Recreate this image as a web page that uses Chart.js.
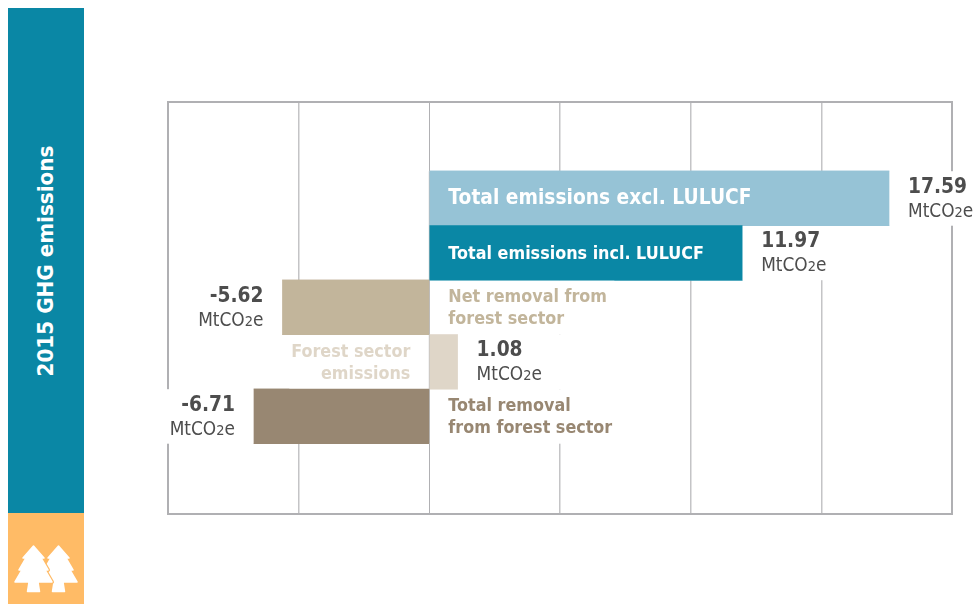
<!DOCTYPE html>
<html>
<head>
<meta charset="utf-8">
<script src="https://cdn.jsdelivr.net/npm/chart.js@4"></script>
<style>
  html, body { margin: 0; padding: 0; background: #fff; }
  body { width: 979px; height: 604px; position: relative; overflow: hidden; font-family: "DejaVu Sans", sans-serif; }
  #chart { position: absolute; left: 0; top: 0; }
  #sideBar { position: absolute; left: 8px; top: 8px; width: 76px; height: 505px; background: #0a87a5; }
  #sideTitle { position: absolute; left: 45px; top: 261px; transform: translate(-50%, -50%) rotate(-90deg) scale(1, 1.1); white-space: nowrap; color: #fff; font-weight: bold; font-size: 20px; }
  #sideIcon { position: absolute; left: 8px; top: 513px; width: 76px; height: 91px; background: #ffbb66; }
</style>
</head>
<body>
<canvas id="chart" width="979" height="604"></canvas>
<div id="sideBar"></div>
<div id="sideTitle">2015 GHG emissions</div>
<svg id="sideIcon" viewBox="0 0 76 91">
  <defs>
    <path id="tree" d="M25.5 33 L36 45 H33 L40 57 H37 L44 69 H30 L31.5 78.5 H19.5 L21 69 H7 L14 57 H11 L18 45 H15Z" stroke-linejoin="round"/>
  </defs>
  <use href="#tree" x="25" fill="#fff" stroke="#fff" stroke-width="1.5"/>
  <use href="#tree" fill="#fff" stroke="#ffbb66" stroke-width="4" paint-order="stroke"/>
  <use href="#tree" fill="#fff" stroke="#fff" stroke-width="1.5"/>
</svg>
<script>
const categories = ["Total emissions excl. LULUCF", "Total emissions incl. LULUCF", "Net removal from forest sector", "Forest sector emissions", "Total removal from forest sector"];
const values = [17.59, 11.97, -5.62, 1.08, -6.71];
const valueLabels = ["17.59", "11.97", "-5.62", "1.08", "-6.71"];
const barColors = ["#96c3d6", "#0a87a5", "#c2b59b", "#dfd6c8", "#988772"];
const xTicks = [-10, -5, 0, 5, 10, 15, 20];

// white boxes behind the labels, px left and right of the zero line
const rowMasks = [
  { left: 0, right: 549 },
  { left: 0, right: 405 },
  { left: 240, right: 185 },
  { left: 140, right: 140 },
  { left: 264, right: 195 }
];

const nameLabels = [
  { lines: ["Total emissions excl. LULUCF"], size: 18.67, color: "#fff", align: "left", offset: 19 },
  { lines: ["Total emissions incl. LULUCF"], size: 16, color: "#fff", align: "left", offset: 19 },
  { lines: ["Net removal from", "forest sector"], size: 16, color: "#c2b59b", align: "left", offset: 19 },
  { lines: ["Forest sector", "emissions"], size: 16, color: "#dfd6c8", align: "right", offset: -19 },
  { lines: ["Total removal", "from forest sector"], size: 16, color: "#988772", align: "left", offset: 19 }
];

// the reference text is a little stretched vertically
function tallText(ctx, text, x, y) {
  ctx.save();
  ctx.translate(x, y);
  ctx.scale(1, 1.1);
  ctx.fillText(text, 0, 0);
  ctx.restore();
}

function drawUnit(ctx, x, y, rightAlign) {
  const big = '17px "DejaVu Sans"', small = '13px "DejaVu Sans"';
  ctx.font = big;
  const w1 = ctx.measureText("MtCO").width, w3 = ctx.measureText("e").width;
  ctx.font = small;
  const w2 = ctx.measureText("2").width;
  const start = rightAlign ? x - (w1 + w2 + w3) : x;
  ctx.textAlign = "left";
  ctx.font = big;
  tallText(ctx, "MtCO", start, y);
  ctx.font = small;
  tallText(ctx, "2", start + w1, y);
  ctx.font = big;
  tallText(ctx, "e", start + w1 + w2, y);
}

const labelPlugin = {
  id: "labelPlugin",
  afterDatasetsDraw(chart) {
    const ctx = chart.ctx, xs = chart.scales.x, ys = chart.scales.y, area = chart.chartArea;
    const zero = xs.getPixelForValue(0);
    ctx.save();
    ctx.strokeStyle = "#b0b0b3";
    ctx.lineWidth = 2;
    ctx.strokeRect(area.left, area.top, area.right - area.left, area.bottom - area.top);

    const h = ys.getPixelForValue(1) - ys.getPixelForValue(0);
    ctx.fillStyle = "#fff";
    rowMasks.forEach(function (m, i) {
      const yc = ys.getPixelForValue(i);
      ctx.fillRect(zero - m.left, yc - h / 2, m.left + m.right, h);
    });
    // zero line and bars go back on top of the masks
    ctx.fillStyle = "#b0b0b3";
    ctx.fillRect(zero - 0.5, ys.getPixelForValue(0) - h / 2, 1, h * 5);
    chart.getDatasetMeta(0).data.forEach(function (bar) { bar.draw(ctx); });

    ctx.textBaseline = "alphabetic";
    values.forEach(function (v, i) {
      const yc = ys.getPixelForValue(i), end = xs.getPixelForValue(v);
      const name = nameLabels[i];
      ctx.font = "bold " + name.size + 'px "DejaVu Sans"';
      ctx.fillStyle = name.color;
      ctx.textAlign = name.align;
      name.lines.forEach(function (line, k) {
        tallText(ctx, line, zero + name.offset, yc + (k - (name.lines.length - 1) / 2) * 22 + 6);
      });
      ctx.fillStyle = "#4d4d4d";
      ctx.font = 'bold 18.67px "DejaVu Sans"';
      const vx = v < 0 ? end - 19 : end + 19;
      ctx.textAlign = v < 0 ? "right" : "left";
      tallText(ctx, valueLabels[i], vx, yc - 5.5);
      drawUnit(ctx, vx, yc + 18.5, v < 0);
    });
    ctx.restore();
  }
};

new Chart(document.getElementById("chart"), {
  type: "bar",
  data: {
    datasets: [{
      data: values.map(function (v, i) { return { x: v, y: i }; }),
      backgroundColor: barColors,
      borderWidth: 0,
      barThickness: 54.6
    }]
  },
  options: {
    indexAxis: "y",
    responsive: false,
    animation: false,
    layout: { padding: { left: 168, right: 27, top: 102, bottom: 90 } },
    plugins: { legend: { display: false }, tooltip: { enabled: false } },
    scales: {
      x: {
        type: "linear",
        min: -10,
        max: 20,
        afterBuildTicks: function (axis) { axis.ticks = xTicks.map(function (t) { return { value: t }; }); },
        ticks: { display: false },
        border: { display: false },
        grid: {
          color: function (c) { return c.tick && c.tick.value === 0 ? "#b0b0b3" : "#c4c4c6"; },
          lineWidth: function (c) { return c.tick && c.tick.value === 0 ? 1 : 1.5; },
          drawTicks: false
        }
      },
      y: {
        type: "linear",
        reverse: true,
        offset: false,
        min: -1.77,
        max: 5.79,
        display: false
      }
    }
  },
  plugins: [labelPlugin]
});
</script>
</body>
</html>
